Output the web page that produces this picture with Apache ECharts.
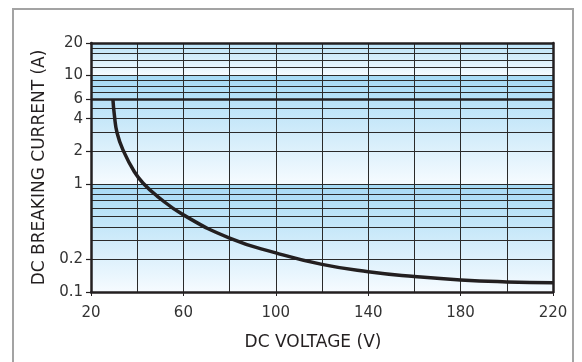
<!DOCTYPE html>
<html>
<head>
<meta charset="utf-8">
<script src="https://cdn.jsdelivr.net/npm/echarts@6/dist/echarts.min.js"></script>
<style>
  html, body { margin: 0; padding: 0; background: #fff; }
  #chart { width: 582px; height: 362px; }
</style>
</head>
<body>
<div id="chart"></div>
<script>
// breaking current curve
var voltage = [29.5, 30.1, 31.3, 34.1, 38.7, 42.8, 48.6, 60, 80, 100, 120, 140, 160, 180, 200, 220]
var current = [6, 4.35, 2.95, 2, 1.3, 1, 0.77, 0.516, 0.315, 0.23, 0.18, 0.154, 0.139, 0.129, 0.124, 0.122]

// the 6 A limit line across the whole range
var limitVoltage = [20, 220]
var limitCurrent = [6, 6]

// axis labels
var voltTicks = [20, 60, 100, 140, 180, 220]
var currentTicks = [0.1, 0.2, 1, 2, 4, 6, 10, 20]
// horizontal grid lines (log paper)
var currentGrid = [0.2, 0.3, 0.4, 0.5, 0.6, 0.7, 0.8, 0.9, 1, 2, 3, 4, 5, 6, 7, 8, 9, 10, 12, 14, 16, 18]
// shaded decade bands
var bandEdges = [0.1, 1, 10, 20]

var chart = echarts.init(document.getElementById('chart'))

var font = '"DejaVu Sans", sans-serif'
var ink = '#231f20'

function band(top) {
  return new echarts.graphic.LinearGradient(0, 0, 0, 1, [
    { offset: 0, color: top },
    { offset: 1, color: '#f6fbff' }
  ])
}

var bandData = []
for (var i = 0; i < bandEdges.length - 1; i++) {
  bandData.push([
    { yAxis: bandEdges[i], itemStyle: { color: band(i === bandEdges.length - 2 ? '#b9e2f7' : '#a6daf5') } },
    { yAxis: bandEdges[i + 1] }
  ])
}

var axisLineStyle = { show: true, lineStyle: { color: ink, width: 2.5 } }

chart.setOption({
  animation: false,
  graphic: [{
    type: 'rect',
    shape: { x: 13, y: 9, width: 560, height: 370 },
    style: { fill: 'none', stroke: '#a3a3a3', lineWidth: 2 }
  }],
  grid: { left: 91, right: 29, top: 43, bottom: 70 },
  xAxis: [{
    // grid lines every 20 V
    type: 'value', min: 20, max: 220, interval: 20, z: 3,
    axisLine: axisLineStyle,
    axisTick: { show: false },
    axisLabel: { show: false },
    splitLine: { show: true, lineStyle: { color: '#2a2a2a', width: 1 } }
  }, {
    type: 'value', min: 20, max: 220, position: 'bottom', z: 3,
    axisLine: { show: false },
    axisTick: { show: true, length: 4, customValues: voltTicks, lineStyle: { color: ink, width: 1 } },
    axisLabel: { customValues: voltTicks, color: '#333', fontFamily: font, fontSize: 15, margin: 14 },
    splitLine: { show: false },
    name: 'DC VOLTAGE (V)', nameLocation: 'middle', nameGap: 42,
    nameTextStyle: { color: ink, fontFamily: font, fontSize: 17, padding: [0, 18, 0, 0] }
  }, {
    type: 'value', min: 20, max: 220, position: 'top', z: 3,
    axisLine: axisLineStyle, axisTick: { show: false }, axisLabel: { show: false }, splitLine: { show: false }
  }],
  yAxis: [{
    type: 'log', logBase: 10, min: 0.1, max: 20, z: 3,
    axisLine: axisLineStyle,
    axisTick: { show: false, customValues: currentGrid },
    axisLabel: { show: false },
    splitLine: { show: true, lineStyle: { color: '#2a2a2a', width: 1 } }
  }, {
    type: 'log', logBase: 10, min: 0.1, max: 20, position: 'left', z: 3,
    axisLine: { show: false },
    axisTick: { show: true, length: 5, customValues: currentTicks, lineStyle: { color: ink, width: 1.2 } },
    axisLabel: { customValues: currentTicks, color: '#333', fontFamily: font, fontSize: 15, margin: 8 },
    splitLine: { show: false },
    name: 'DC BREAKING CURRENT (A)', nameLocation: 'middle', nameGap: 41, nameRotate: 90,
    nameTextStyle: { color: ink, fontFamily: font, fontSize: 17 }
  }, {
    type: 'log', logBase: 10, min: 0.1, max: 20, position: 'right', z: 3,
    axisLine: axisLineStyle, axisTick: { show: false }, axisLabel: { show: false }, splitLine: { show: false }
  }],
  series: [{
    name: 'bands', type: 'line', data: [], z: 1,
    markArea: { silent: true, z: 1, data: bandData }
  }, {
    name: 'limit', type: 'line', z: 5, symbol: 'none',
    lineStyle: { color: ink, width: 2.5 },
    data: limitVoltage.map(function (v, i) { return [v, limitCurrent[i]] })
  }, {
    name: 'breaking current', type: 'line', z: 6, symbol: 'none',
    smooth: 0.5,
    lineStyle: { color: ink, width: 3.5 },
    data: voltage.map(function (v, i) { return [v, current[i]] })
  }]
})
</script>
</body>
</html>
